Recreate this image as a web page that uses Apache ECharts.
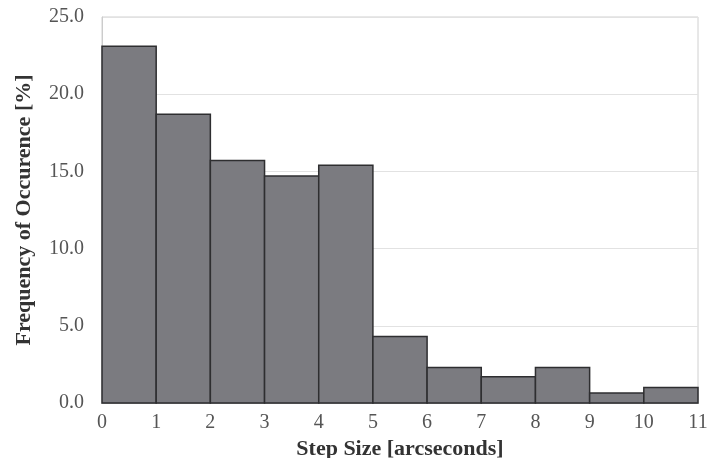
<!DOCTYPE html>
<html><head><meta charset="utf-8">
<script src="https://cdn.jsdelivr.net/npm/echarts@6/dist/echarts.min.js"></script>
<style>html,body{margin:0;padding:0;background:#fff}#c{width:722px;height:458px}</style>
</head><body><div id="c"></div>
<script>
const binStarts = [0, 1, 2, 3, 4, 5, 6, 7, 8, 9, 10];
const binWidth = 1;
const frequency = [23.1, 18.7, 15.7, 14.7, 15.4, 4.3, 2.3, 1.7, 2.3, 0.65, 1.0];
const xTicks = [0, 1, 2, 3, 4, 5, 6, 7, 8, 9, 10, 11];
const yTicks = [0, 5, 10, 15, 20, 25];

const data = binStarts.map((s, i) => [s, s + binWidth, frequency[i]]);
const chart = echarts.init(document.getElementById('c'));
const serif = '"Liberation Serif","DejaVu Serif",serif';
chart.setOption({
  animation: false,
  backgroundColor: '#fff',
  grid: { left: 102, right: 24, top: 17, bottom: 55, outerBoundsMode: 'none', containLabel: false,
          show: true, borderColor: '#d0d0d0', borderWidth: 1 },
  xAxis: {
    type: 'value', min: xTicks[0], max: xTicks[xTicks.length - 1], interval: 1,
    name: 'Step Size [arcseconds]', nameLocation: 'middle', nameGap: 25,
    nameTextStyle: { fontFamily: serif, fontWeight: 'bold', fontSize: 22, color: '#333' },
    axisLine: { lineStyle: { color: '#aaa' } },
    axisTick: { show: false },
    splitLine: { show: false },
    axisLabel: { fontFamily: serif, fontSize: 20, color: '#555', margin: 10 }
  },
  yAxis: {
    type: 'value', min: yTicks[0], max: yTicks[yTicks.length - 1], interval: 5,
    name: 'Frequency of Occurence [%]', nameLocation: 'middle', nameGap: 67,
    nameTextStyle: { fontFamily: serif, fontWeight: 'bold', fontSize: 22, color: '#333' },
    axisLine: { show: true, lineStyle: { color: '#ccc' } },
    axisTick: { show: false },
    splitLine: { lineStyle: { color: '#e2e2e2' } },
    axisLabel: { fontFamily: serif, fontSize: 20, color: '#555', margin: 18, formatter: v => v.toFixed(1) }
  },
  series: [{
    type: 'custom',
    data: data,
    encode: { x: [0, 1], y: 2 },
    renderItem: function (params, api) {
      const p0 = api.coord([api.value(0), api.value(2)]);
      const p1 = api.coord([api.value(1), 0]);
      return {
        type: 'rect',
        shape: { x: p0[0], y: p0[1], width: p1[0] - p0[0], height: p1[1] - p0[1] },
        style: { fill: '#7b7b80', stroke: '#2e2e30', lineWidth: 1.5 }
      };
    }
  }]
});
</script></body></html>
